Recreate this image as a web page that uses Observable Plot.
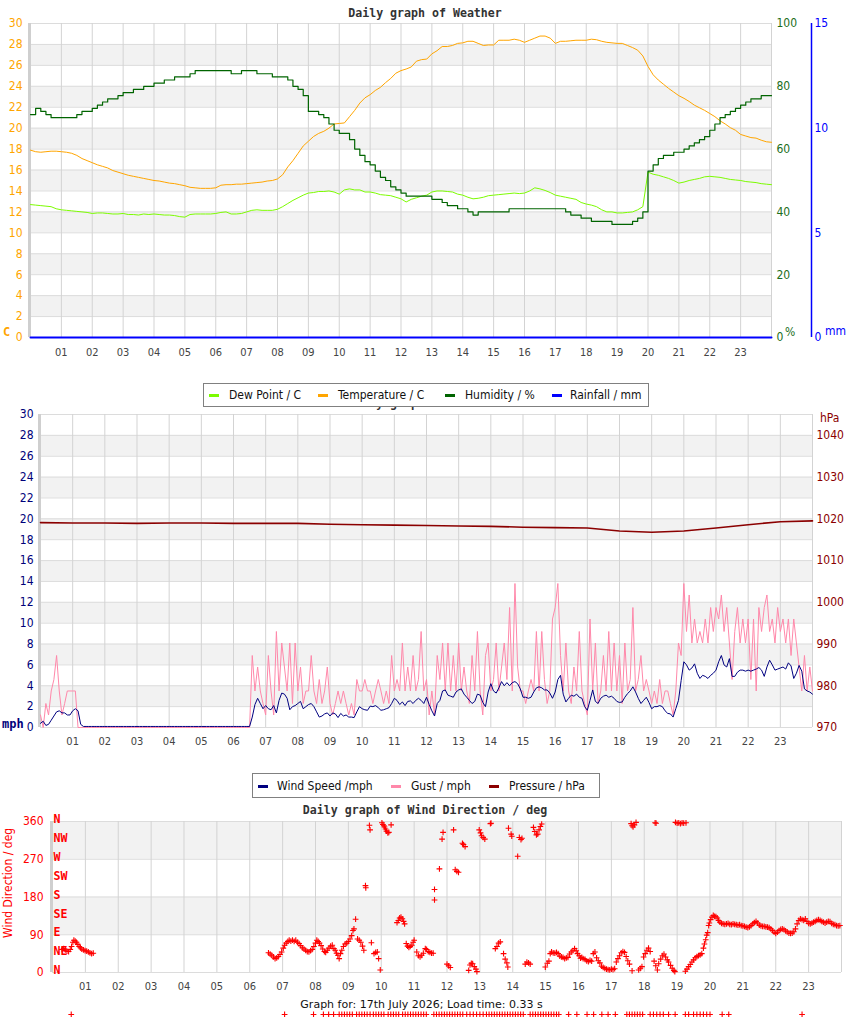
<!DOCTYPE html>
<html>
<head>
<meta charset="utf-8">
<script src="https://cdn.jsdelivr.net/npm/d3@7"></script>
<script src="https://cdn.jsdelivr.net/npm/@observablehq/plot@0.6"></script>
<style>
  html, body { margin: 0; padding: 0; background: #fff; }
  body { position: relative; width: 850px; height: 1017px; overflow: hidden;
         font-family: "DejaVu Sans Condensed", "DejaVu Sans", sans-serif; }
  .abs { position: absolute; }
  .chart { position: absolute; left: 0; }
  .title { position: absolute; left: 0; width: 850px; text-align: center;
           font-family: "DejaVu Sans Mono", monospace; font-weight: bold;
           font-size: 11.6px; line-height: 14px; color: #333; }
  .legend { position: absolute; background: #fff; border: 1px solid #808080;
            box-sizing: border-box; font-size: 12px; color: #111; z-index: 5; }
  .legend .sw { position: absolute; width: 10px; height: 3px; }
  .legend .tx { position: absolute; white-space: nowrap; line-height: 14px; }
  .unit { position: absolute; white-space: nowrap; line-height: 12px; }
  .bold { font-family: "DejaVu Sans Mono", monospace; font-weight: bold; }
</style>
</head>
<body>
<div id="weather" class="chart" style="top:0"></div>
<div id="wind" class="chart" style="top:405px"></div>
<div id="direction" class="chart" style="top:800px"></div>

<div class="title" style="top:6px">Daily graph of Weather</div>
<!-- second panel title: the legend box is drawn over it -->
<div class="title" style="top:396px">Daily graph of Weather</div>
<div class="title" style="top:803px">Daily graph of Wind Direction / deg</div>

<div class="unit bold" style="left:3px;top:326px;color:#ffa500;font-size:12px">C</div>
<div class="unit" style="left:785px;top:326px;color:#1b6e1b;font-size:12px">%</div>
<div class="unit" style="left:825px;top:325px;color:#0000ff;font-size:12px">mm</div>
<div class="unit bold" style="left:2px;top:718px;color:#00007a;font-size:12px">mph</div>
<div class="unit" style="left:820px;top:412px;color:#8b0000;font-size:12px">hPa</div>
<div class="unit" style="left:2px;top:926px;width:12px;height:12px;color:#ff0000;font-size:12px;transform:rotate(-90deg);transform-origin:6px 6px;"><span style="position:absolute;left:0;top:0">Wind Direction / deg</span></div>

<div class="legend" style="left:203px;top:383px;width:446px;height:24px">
  <div class="sw" style="left:5px;top:10px;background:#7cfc00"></div><div class="tx" style="left:25px;top:4px">Dew Point / C</div>
  <div class="sw" style="left:114px;top:10px;background:#ffa500"></div><div class="tx" style="left:134px;top:4px">Temperature / C</div>
  <div class="sw" style="left:241px;top:10px;background:#006400"></div><div class="tx" style="left:261px;top:4px">Humidity / %</div>
  <div class="sw" style="left:348px;top:10px;background:#0000ff"></div><div class="tx" style="left:366px;top:4px">Rainfall / mm</div>
</div>
<div class="legend" style="left:252px;top:773px;width:348px;height:25px">
  <div class="sw" style="left:5px;top:11px;background:#000080"></div><div class="tx" style="left:24px;top:5px">Wind Speed /mph</div>
  <div class="sw" style="left:138px;top:11px;background:#ff88aa"></div><div class="tx" style="left:158px;top:5px">Gust / mph</div>
  <div class="sw" style="left:236px;top:11px;background:#8b0000"></div><div class="tx" style="left:256px;top:5px">Pressure / hPa</div>
</div>

<div class="abs" style="left:0;top:998px;width:843px;text-align:center;font-family:'DejaVu Sans',sans-serif;font-size:11px;color:#111;line-height:14px">Graph for: 17th July 2026; Load time: 0.33 s</div>

<script>
// ---- Hour axis ----
const hourTicks = [1,2,3,4,5,6,7,8,9,10,11,12,13,14,15,16,17,18,19,20,21,22,23];
const hourLabels = ["01","02","03","04","05","06","07","08","09","10","11","12",
                    "13","14","15","16","17","18","19","20","21","22","23"];

// ---- Weather panel ticks ----
const tempTicks = [0,2,4,6,8,10,12,14,16,18,20,22,24,26,28,30];
const humidityTicks = [0,20,40,60,80,100];
const rainTicks = [0,5,10,15];

// ---- Temperature (C), one reading every 10 minutes from 00:00 to 24:00 ----
const temperatureC = [
  17.9, 17.75, 17.7, 17.75, 17.8, 17.8,
  17.75, 17.7, 17.6, 17.4, 17.1, 16.9,
  16.7, 16.5, 16.35, 16.2, 15.95, 15.8,
  15.65, 15.5, 15.4, 15.3, 15.2, 15.1,
  15.0, 14.95, 14.85, 14.75, 14.7, 14.6,
  14.5, 14.35, 14.3, 14.25, 14.25, 14.25,
  14.3, 14.55, 14.6, 14.6, 14.65, 14.65,
  14.7, 14.75, 14.8, 14.85, 14.95, 15.0,
  15.15, 15.55, 16.3, 16.9, 17.6, 18.3,
  18.75, 19.2, 19.5, 19.7, 20.0, 20.4,
  20.45, 20.5, 21.1, 21.7, 22.4, 22.9,
  23.2, 23.6, 23.9, 24.35, 24.75, 25.25,
  25.5, 25.65, 25.85, 26.4, 26.55, 26.6,
  27.1, 27.4, 27.8, 27.8, 27.9, 28.1,
  28.15, 28.3, 28.3, 28.1, 27.9, 27.95,
  27.95, 28.4, 28.4, 28.4, 28.5, 28.4,
  28.2, 28.4, 28.6, 28.8, 28.8, 28.6,
  28.1, 28.3, 28.3, 28.35, 28.4, 28.4,
  28.4, 28.5, 28.45, 28.3, 28.2, 28.15,
  28.1, 28.1, 27.9, 27.7, 27.45, 26.9,
  25.9, 25.1, 24.6, 24.2, 23.8, 23.45,
  23.1, 22.85, 22.55, 22.2, 21.95, 21.7,
  21.4, 21.1, 20.7, 20.4, 20.05, 19.8,
  19.4, 19.25, 19.1, 19.05, 18.85, 18.7,
  18.65
];

// ---- Dew point (C), every 10 minutes ----
const dewPointC = [
  12.7, 12.65, 12.6, 12.55, 12.5, 12.3,
  12.2, 12.15, 12.1, 12.05, 12.0, 11.95,
  11.85, 11.9, 11.9, 11.85, 11.8, 11.8,
  11.85, 11.75, 11.75, 11.7, 11.8, 11.75,
  11.8, 11.75, 11.7, 11.7, 11.65, 11.55,
  11.5, 11.75, 11.8, 11.8, 11.8, 11.8,
  11.85, 11.95, 12.0, 11.8, 11.8, 11.85,
  12.0, 12.15, 12.2, 12.15, 12.15, 12.15,
  12.25, 12.5, 12.8, 13.1, 13.35, 13.6,
  13.8, 13.85, 13.95, 13.95, 14.0, 13.9,
  13.7, 14.1, 14.2, 14.1, 14.1, 13.9,
  13.9, 13.8, 13.65, 13.6, 13.55, 13.4,
  13.25, 12.95, 13.2, 13.35, 13.5, 13.6,
  13.9, 14.0, 14.0, 13.95, 13.9, 13.7,
  13.6, 13.4, 13.25, 13.3, 13.4, 13.55,
  13.6, 13.65, 13.7, 13.75, 13.8, 13.75,
  13.8, 14.0, 14.3, 14.2, 14.05, 13.85,
  13.6, 13.5, 13.4, 13.3, 13.2, 12.9,
  12.75, 12.65, 12.5, 12.2, 12.0, 12.0,
  11.9, 11.9, 11.95, 12.0, 12.2, 12.5,
  15.8, 15.6, 15.5, 15.35, 15.2, 15.0,
  14.75, 14.85, 15.0, 15.1, 15.2, 15.35,
  15.4, 15.35, 15.3, 15.2, 15.1, 15.05,
  15.0, 14.9, 14.85, 14.8, 14.7, 14.65,
  14.6
];

// ---- Relative humidity (%), every 10 minutes ----
const humidityPct = [
  71, 73, 72, 71, 70, 70,
  70, 70, 70, 71, 72, 72,
  73, 74, 75, 76, 76, 77,
  78, 78, 79, 79, 80, 80,
  81, 81, 82, 82, 83, 83,
  83, 84, 85, 85, 85, 85,
  85, 85, 85, 84, 84, 85,
  85, 85, 84, 84, 84, 83,
  83, 83, 82, 80, 79, 77,
  72, 72, 71, 70, 68, 66,
  65, 65, 63, 60, 58, 56,
  55, 53, 51, 50, 48, 47,
  46, 45, 45, 45, 45, 45,
  44, 44, 43, 42, 42, 41,
  41, 40, 39, 40, 40, 40,
  40, 40, 40, 41, 41, 41,
  41, 41, 41, 41, 41, 41,
  41, 41, 40, 39, 39, 38,
  38, 37, 37, 37, 37, 36,
  36, 36, 36, 37, 38, 40,
  53, 55, 57, 58, 58, 59,
  59, 60, 61, 62, 63, 64,
  66, 68, 70, 71, 72, 73,
  74, 75, 76, 76, 77, 77,
  77
];

// ---- Rainfall (mm), hourly from 00:00 to 24:00 ----
const rainfallMm = [0,0,0,0,0,0,0,0,0,0,0,0,0,0,0,0,0,0,0,0,0,0,0,0,0];

// ---- Wind panel ticks ----
const speedTicks = [0,2,4,6,8,10,12,14,16,18,20,22,24,26,28,30];
const pressureTicks = [970,980,990,1000,1010,1020,1030,1040];

// ---- Wind speed (mph), every 5 minutes ----
const windSpeedMph = [
  0.4, 0.6, 0.2, 0.3, 0.7, 1.1, 1.5, 1.6, 1.4, 1.4, 1.2, 1.2,
  1.6, 1.8, 1.6, 0.3, 0.1, 0.1, 0.1, 0.1, 0.1, 0.1, 0.1, 0.1,
  0.1, 0.1, 0.1, 0.1, 0.1, 0.1, 0.1, 0.1, 0.1, 0.1, 0.1, 0.1,
  0.1, 0.1, 0.1, 0.1, 0.1, 0.1, 0.1, 0.1, 0.1, 0.1, 0.1, 0.1,
  0.1, 0.1, 0.1, 0.1, 0.1, 0.1, 0.1, 0.1, 0.1, 0.1, 0.1, 0.1,
  0.1, 0.1, 0.1, 0.1, 0.1, 0.1, 0.1, 0.1, 0.1, 0.1, 0.1, 0.1,
  0.1, 0.1, 0.1, 0.1, 0.1, 0.1, 0.1, 1.0, 2.2, 2.8, 2.3, 1.8,
  2.1, 1.8, 1.7, 2.1, 1.4, 2.6, 3.3, 3.2, 2.8, 1.7, 2.0, 2.1,
  2.3, 2.5, 1.8, 2.0, 2.2, 2.3, 2.0, 1.5, 1.0, 1.1, 1.3, 1.4,
  1.1, 1.4, 1.3, 0.95, 1.35, 1.1, 1.2, 1.0, 1.0, 0.95, 1.5, 2.0,
  1.8, 1.7, 1.65, 2.05, 2.0, 2.1, 1.9, 1.65, 1.7, 1.8, 1.9, 2.3,
  2.8, 2.6, 2.2, 2.45, 2.1, 2.5, 2.55, 2.3, 2.6, 2.8, 2.6, 2.3,
  2.9, 2.2, 1.6, 1.1, 2.3, 2.6, 3.5, 3.6, 3.1, 3.0, 2.9, 3.4,
  3.6, 3.7, 3.2, 2.9, 2.6, 2.3, 2.5, 3.2, 3.1, 2.4, 2.0, 3.4,
  4.2, 3.5, 3.3, 3.8, 4.4, 4.0, 4.3, 4.0, 4.3, 4.4, 4.2, 3.7,
  2.9, 2.9, 2.8, 2.9, 3.4, 3.8, 3.9, 3.8, 3.6, 3.6, 3.3, 2.8,
  3.4, 4.6, 5.0, 3.2, 2.45, 2.8, 3.1, 3.0, 3.2, 2.9, 2.8, 2.0,
  1.65, 2.6, 3.6, 2.5, 2.3, 2.8, 3.0, 3.1, 2.9, 3.0, 2.8, 2.5,
  2.4, 2.45, 2.9, 3.25, 3.5, 3.9, 3.4, 2.8, 2.3, 2.6, 2.9, 2.4,
  1.8, 2.0, 2.0, 2.1, 2.0, 1.6, 1.35, 1.3, 1.0, 1.8, 2.6, 4.5,
  6.3, 6.0, 5.5, 5.7, 6.1, 5.2, 4.7, 5.0, 4.9, 4.7, 5.0, 5.2,
  5.5, 6.3, 6.9, 6.0, 5.8, 6.6, 4.9, 4.9, 5.3, 5.5, 5.5, 5.4,
  5.5, 5.4, 5.5, 5.6, 5.75, 5.5, 4.9, 5.8, 6.45, 6.0, 5.5, 5.6,
  5.7, 5.8, 5.6, 6.2, 5.9, 4.7, 5.2, 5.95, 5.4, 3.7, 3.5, 3.4,
  3.2
];

// ---- Gust (mph), every 5 minutes ----
const gustMph = [
  1.2, 0, 2.3, 1.2, 3.5, 4.6, 6.9, 3.5, 1.2, 2.3, 3.5, 3.5,
  3.5, 3.5, 0, 0, 0, 0, 0, 0, 0, 0, 0, 0,
  0, 0, 0, 0, 0, 0, 0, 0, 0, 0, 0, 0,
  0, 0, 0, 0, 0, 0, 0, 0, 0, 0, 0, 0,
  0, 0, 0, 0, 0, 0, 0, 0, 0, 0, 0, 0,
  0, 0, 0, 0, 0, 0, 0, 0, 0, 0, 0, 0,
  0, 0, 0, 0, 0, 0, 0, 6.9, 3.5, 5.8, 3.5, 2.3,
  1.2, 6.9, 3.5, 1.2, 9.2, 3.5, 8.1, 5.8, 3.5, 8.1, 2.3, 8.1,
  3.5, 5.8, 2.3, 3.5, 3.5, 6.9, 3.5, 2.3, 4.6, 2.3, 3.5, 5.8,
  2.3, 1.2, 2.3, 3.5, 2.3, 3.5, 2.3, 1.2, 2.3, 1.2, 4.6, 3.5,
  3.5, 4.6, 3.5, 3.5, 2.3, 3.5, 4.6, 3.5, 2.3, 3.5, 2.3, 6.9,
  3.5, 4.6, 3.5, 8.1, 3.5, 5.8, 3.5, 6.9, 3.5, 4.6, 9.2, 3.5,
  4.6, 1.2, 3.5, 1.2, 6.9, 4.6, 8.1, 3.5, 8.1, 3.5, 6.9, 3.5,
  8.1, 3.5, 5.8, 3.5, 2.3, 6.9, 3.5, 9.2, 3.5, 1.2, 6.9, 8.1,
  3.5, 4.6, 8.1, 3.5, 5.8, 8.1, 4.6, 11.5, 3.5, 13.8, 5.8, 3.5,
  3.5, 2.3, 3.5, 4.6, 3.5, 9.2, 3.5, 9.2, 4.6, 2.3, 3.5, 10.4,
  11.5, 13.8, 6.9, 3.5, 8.1, 3.5, 2.3, 5.8, 3.5, 9.2, 3.5, 2.3,
  1.2, 10.4, 3.5, 8.1, 2.3, 3.5, 6.9, 3.5, 9.2, 3.5, 8.1, 3.5,
  6.9, 2.3, 8.1, 3.5, 4.6, 11.5, 3.5, 4.6, 6.9, 3.5, 4.6, 3.5,
  2.3, 3.5, 2.3, 4.6, 2.3, 3.5, 3.5, 2.3, 1.2, 3.5, 8.1, 6.9,
  13.8, 9.2, 12.7, 8.1, 10.4, 8.1, 9.2, 8.1, 10.4, 8.1, 11.5, 9.2,
  11.5, 10.4, 12.7, 9.2, 11.5, 8.1, 4.6, 9.2, 11.5, 8.1, 10.4, 8.1,
  10.4, 4.6, 10.4, 3.5, 11.5, 9.2, 11.5, 12.7, 9.2, 10.4, 8.1, 11.5,
  9.2, 10.4, 8.1, 10.4, 6.9, 10.4, 8.1, 5.8, 3.5, 6.9, 3.5, 5.8,
  3.5
];

// ---- Sea-level pressure (hPa), hourly ----
const pressureHpa = [
  1019.1, 1019.0, 1019.0, 1018.9, 1019.0, 1019.0, 1018.9, 1018.9, 1018.9,
  1018.7, 1018.6, 1018.5, 1018.4, 1018.3, 1018.2, 1018.0, 1017.9, 1017.8,
  1017.1, 1016.8, 1017.1, 1017.8, 1018.6, 1019.3, 1019.5
];

// ---- Wind direction panel ----
const directionTicks = [0, 90, 180, 270, 360];
const compassNames = ["N","NE","E","SE","S","SW","W","NW","N"];
const compassDegrees = [0, 45, 90, 135, 180, 225, 270, 315, 360];

// [hour, degrees]
const windDirectionReadings = [
  [0.29,55],[0.34,57],[0.39,54],[0.44,51],[0.49,50],[0.54,55],[0.58,62],[0.62,72],[0.65,77],[0.69,75],
  [0.73,72],[0.77,67],[0.81,62],[0.85,59],[0.89,56],[0.94,54],[0.99,52],[1.04,51],[1.09,49],[1.14,47],
  [1.19,45],[1.24,46],
  [6.57,47],[6.62,44],[6.67,41],[6.72,37],[6.77,33],[6.82,35],[6.87,38],[6.92,43],[6.97,49],[7.02,58],
  [7.06,65],[7.11,70],[7.16,74],[7.2,77],[7.25,75],[7.3,77],[7.35,74],[7.4,77],[7.45,72],[7.5,69],
  [7.55,64],[7.6,59],[7.65,56],[7.7,53],[7.75,50],[7.8,49],[7.85,52],[7.9,55],[7.95,62],[8.0,70],
  [8.04,77],[8.08,74],[8.12,70],[8.17,64],[8.22,56],[8.27,50],[8.31,48],[8.36,53],[8.41,58],[8.46,63],
  [8.51,65],[8.56,57],[8.6,53],[8.64,46],[8.68,41],[8.72,33],[8.76,45],[8.8,53],[8.85,62],[8.9,68],
  [8.95,70],[9.0,74],[9.05,80],[9.1,88],[9.14,100],[9.17,104],[9.22,127],[9.28,80],[9.33,77],[9.38,72],
  [9.43,63],[9.47,53],[9.52,207],[9.53,202],[9.64,351],[9.66,340],[9.7,71],[9.78,45],[9.83,48],[9.88,49],
  [9.92,33],[9.97,6],[10.02,357],[10.05,353],[10.08,350],[10.1,347],[10.13,342],[10.16,337],[10.2,333],[10.23,334],
  [10.3,352],[10.48,119],[10.52,124],[10.56,130],[10.6,132],[10.64,128],[10.68,122],[10.71,116],[10.76,69],[10.8,63],
  [10.84,60],[10.88,62],[10.93,65],[10.97,72],[11.0,77],[11.08,49],[11.13,40],[11.18,37],[11.23,41],[11.28,46],
  [11.34,57],[11.38,55],[11.43,50],[11.48,48],[11.53,46],[11.58,46],
  [11.62,198],[11.62,173],[11.77,247],[11.85,318],[11.88,334],[12.0,20],[12.05,16],[12.1,12],[12.2,340],[12.25,245],
  [12.3,241],[12.35,239],[12.47,308],[12.5,305],[12.55,300],[12.66,5],[12.7,18],[12.74,22],[12.78,21],[12.83,14],
  [12.88,8],[12.91,2],[12.98,340],[13.02,333],[13.05,326],[13.1,322],[13.15,318],[13.32,355],[13.34,356],[13.47,57],
  [13.52,62],[13.57,70],[13.62,73],[13.72,45],[13.77,32],[13.82,23],[13.85,13],[13.87,344],[13.95,330],[13.97,325],
  [14.15,277],[14.2,322],[14.25,317],[14.28,320],[14.38,20],[14.43,25],[14.48,23],[14.53,20],[14.63,346],[14.67,336],
  [14.72,328],[14.76,330],[14.8,340],[14.84,348],[14.88,354],
  [14.99,13],[15.05,22],[15.1,27],[15.14,45],[15.18,49],[15.23,47],[15.28,46],[15.33,48],[15.38,45],[15.43,39],
  [15.48,37],[15.53,36],[15.58,33],[15.63,35],[15.68,36],[15.73,44],[15.78,49],[15.83,52],[15.88,57],[15.93,52],
  [15.97,45],[16.02,40],[16.06,34],[16.1,36],[16.14,33],[16.2,31],[16.25,28],[16.3,26],[16.35,29],[16.4,27],
  [16.45,45],[16.5,49],[16.55,35],[16.6,28],[16.65,23],[16.7,15],[16.75,12],[16.8,10],[16.85,8],[16.9,7],
  [16.95,6],[17.0,8],[17.05,7],[17.1,9],[17.15,25],[17.2,33],[17.25,40],[17.3,47],[17.35,50],[17.4,48],
  [17.45,38],[17.5,28],[17.55,20],[17.63,4],[17.83,6],[17.88,10],[17.93,14],[17.98,37],[18.03,45],[18.08,53],
  [18.13,58],[18.18,50],[18.3,27],[18.35,16],[18.4,6],[18.44,21],[18.5,32],[18.55,40],[18.6,44],[18.65,37],
  [18.7,30],[18.74,25],[18.8,17],[18.85,10],[18.9,5],[18.93,2],[19.25,3],[19.3,8],[19.35,14],[19.4,19],
  [19.45,25],[19.5,30],[19.55,35],[19.6,38],[19.65,40],[19.7,42],[19.75,45],[19.8,58],[19.83,68],[19.87,78],
  [19.9,89],[19.93,95],[19.96,112],[19.98,118],
  [17.6,355],[17.63,350],[17.66,347],[17.7,352],[17.75,358],[18.33,357],[18.36,356],[18.95,358],[19.0,356],[19.05,357],
  [19.1,355],[19.15,357],[19.2,356],[19.27,357],
  [20.02,126],[20.06,132],[20.1,136],[20.14,134],[20.18,133],[20.22,130],[20.26,124],[20.3,120],[20.35,117],[20.4,116],
  [20.45,115],[20.5,116],[20.55,117],[20.6,115],[20.65,114],[20.7,116],[20.75,115],[20.8,114],[20.85,113],[20.9,114],
  [20.95,112],[21.0,111],[21.05,110],[21.1,108],[21.15,107],[21.2,109],[21.25,112],[21.3,116],[21.35,119],[21.4,122],
  [21.45,118],[21.5,113],[21.55,111],[21.6,110],[21.65,110],[21.7,109],[21.75,108],[21.8,107],[21.85,104],[21.9,100],
  [21.95,96],[22.0,93],[22.05,96],[22.1,100],[22.15,103],[22.2,104],[22.25,102],[22.3,99],[22.35,97],[22.4,94],
  [22.45,93],[22.5,94],[22.55,97],[22.6,104],[22.65,116],[22.7,124],[22.75,128],[22.8,126],[22.85,124],[22.9,128],
  [22.95,122],[23.0,117],[23.05,116],[23.1,118],[23.15,120],[23.2,122],[23.25,124],[23.3,126],[23.35,124],[23.4,122],
  [23.45,120],[23.5,118],[23.55,120],[23.6,122],[23.65,121],[23.7,117],[23.75,115],[23.8,114],[23.85,112],[23.9,111],
  [23.95,112]
];

// Readings logged with the off-scale direction code (drawn in a row below the hours)
const offScaleDegrees = -100;
const offScaleHours = [
  0.57, 7.06, 7.94, 8.24, 8.40, 8.55, 8.72, 8.80, 8.88, 8.96, 9.04, 9.12, 9.25, 9.33, 9.41, 9.49,
  9.57, 9.66, 9.76, 9.84, 9.92, 10.0, 10.08, 10.21, 10.29, 10.37, 10.45, 10.53, 10.65, 10.73, 10.81,
  10.89, 10.97, 11.05, 11.13, 11.21, 11.29, 11.37, 11.6, 11.68, 11.76, 11.84, 11.92, 12.0, 12.08,
  12.16, 12.24, 12.32, 12.4, 12.48, 12.6, 12.7, 12.8, 12.9, 13.0, 13.1, 13.2, 13.28, 13.36, 13.44,
  13.52, 13.6, 13.68, 13.76, 13.84, 13.92, 14.0, 14.08, 14.16, 14.24, 14.32, 14.53, 14.61, 14.69,
  14.77, 14.85, 14.93, 15.01, 15.09, 15.17, 15.25, 15.33, 15.4, 15.7, 15.95, 16.26, 16.46, 16.71,
  16.9, 17.12, 17.47, 17.55, 17.63, 17.71, 17.79, 17.87, 17.95, 18.18, 18.28, 18.38, 18.48, 18.58,
  18.74, 18.94, 19.25, 19.35, 19.5, 19.6, 19.7, 19.8, 19.9, 20.0, 20.37, 20.57, 22.8
];

// ---------------------------------------------------------------------------
const labelOf = new Map(hourTicks.map((h, i) => [h, hourLabels[i]]));
const fontStack = "'DejaVu Sans Condensed', 'DejaVu Sans', sans-serif";
const gridV = "#d3d3d3", gridH = "#dcdcdc", band = "#f2f2f2";

// Alternate shaded bands between every other pair of grid lines
function bandsFrom(ticks, start) {
  const out = [];
  for (let i = start; i + 1 < ticks.length; i += 2) out.push([ticks[i], ticks[i + 1]]);
  return out;
}

function frame(hTicks, bands) {
  return [
    Plot.rect(bands, {x1: () => 0, x2: () => 24, y1: d => d[0], y2: d => d[1], fill: band}),
    Plot.ruleY(hTicks, {stroke: gridH}),
    Plot.ruleX(hourTicks, {stroke: gridV}),
    Plot.ruleX([24], {stroke: gridV}),
    Plot.ruleX([0], {stroke: "#cfcfcf", strokeWidth: 3, dx: -1})
  ];
}

function hourAxis(pad) {
  return Plot.axisX(hourTicks, {tickSize: 0, tickPadding: pad, tickFormat: d => labelOf.get(d),
    fill: "#444", fontSize: 11, label: null});
}

// ---- Panel 1: temperature, dew point, humidity, rainfall ----
const humToC = 30 / 100;   // humidity 0-100 % shares the 0-30 C frame
const rainToC = 30 / 15;   // rainfall 0-15 mm shares the 0-30 C frame
const weather = temperatureC.map((t, i) => ({hour: i / 6, temp: t, dew: dewPointC[i], hum: humidityPct[i]}));
const rain = rainfallMm.map((r, i) => ({hour: i, mm: r}));

const p1 = Plot.plot({
  width: 850, height: 370,
  marginLeft: 30, marginRight: 79, marginTop: 23, marginBottom: 33,
  x: {domain: [0, 24]},
  y: {domain: [0, 30]},
  style: {fontFamily: fontStack, fontSize: "12px", background: "transparent", overflow: "visible"},
  marks: [
    ...frame(tempTicks, bandsFrom(tempTicks, 1)),
    Plot.line(weather, {x: "hour", y: "dew", stroke: "#7cfc00", strokeWidth: 1}),
    Plot.line(weather, {x: "hour", y: "temp", stroke: "#ffa500", strokeWidth: 1}),
    Plot.line(weather, {x: "hour", y: d => d.hum * humToC, curve: "step-after", stroke: "#006400", strokeWidth: 1.2}),
    Plot.line(rain, {x: "hour", y: d => d.mm * rainToC, stroke: "#0000ff", strokeWidth: 2}),
    Plot.ruleX([24], {y1: () => 0, y2: () => 30, dx: 40, stroke: "#0000ff", strokeWidth: 1.5}),
    Plot.axisY(tempTicks, {anchor: "left", tickSize: 0, tickPadding: 8, fill: "#ffa500", label: null}),
    Plot.axisY(humidityTicks.map(h => h * humToC), {anchor: "right", tickSize: 0, tickPadding: 5,
      tickFormat: v => String(Math.round(v / humToC)), fill: "#1b6e1b", label: null}),
    Plot.axisY(rainTicks.map(r => r * rainToC), {anchor: "right", tickSize: 0, tickPadding: 3, dx: 40,
      tickFormat: v => String(Math.round(v / rainToC)), fill: "#0000ff", label: null}),
    hourAxis(11)
  ]
});
document.getElementById("weather").append(p1);

// ---- Panel 2: wind speed, gust, pressure ----
const hPaToMph = p => (p - 970) / 2.5;   // 970-1045 hPa shares the 0-30 mph frame
const wind = windSpeedMph.map((w, i) => ({hour: i / 12, speed: w, gust: gustMph[i]}));
const pressure = pressureHpa.map((p, i) => ({hour: i, hPa: p}));

const p2 = Plot.plot({
  width: 850, height: 345,
  marginLeft: 40, marginRight: 38, marginTop: 9, marginBottom: 23,
  x: {domain: [0, 24]},
  y: {domain: [0, 30]},
  style: {fontFamily: fontStack, fontSize: "12px", background: "transparent", overflow: "visible"},
  marks: [
    ...frame(speedTicks, bandsFrom(speedTicks, 1)),
    Plot.line(wind, {x: "hour", y: "gust", stroke: "#ff88aa", strokeWidth: 1}),
    Plot.line(wind, {x: "hour", y: "speed", stroke: "#000080", strokeWidth: 1}),
    Plot.line(pressure, {x: "hour", y: d => hPaToMph(d.hPa), stroke: "#8b0000", strokeWidth: 1.6}),
    Plot.axisY(speedTicks, {anchor: "left", tickSize: 0, tickPadding: 7, fill: "#00007a", label: null}),
    Plot.axisY(pressureTicks.map(hPaToMph), {anchor: "right", tickSize: 0, tickPadding: 4,
      tickFormat: v => String(Math.round(v * 2.5 + 970)), fill: "#8b0000", label: null}),
    hourAxis(10)
  ]
});
document.getElementById("wind").append(p2);

// ---- Panel 3: wind direction ----
const direction = windDirectionReadings.map(([h, d]) => ({hour: h, deg: d}));

const p3 = Plot.plot({
  width: 850, height: 217,
  marginLeft: 52, marginRight: 9, marginTop: 21, marginBottom: 45,
  x: {domain: [0, 24]},
  y: {domain: [0, 360]},
  style: {fontFamily: fontStack, fontSize: "12px", background: "transparent", overflow: "visible"},
  marks: [
    ...frame(directionTicks, bandsFrom(directionTicks, 1)),
    Plot.dot(direction, {x: "hour", y: "deg", symbol: "plus", r: 2.0, stroke: "#ff0000", strokeWidth: 1.1}),
    Plot.dot(offScaleHours, {x: d => d, y: () => offScaleDegrees, symbol: "plus", r: 2.0, stroke: "#ff0000", strokeWidth: 1.1}),
    Plot.text(compassNames, {x: () => 0, y: (d, i) => compassDegrees[i], text: d => d,
      textAnchor: "start", dx: 1, dy: -2, fill: "#ff0000", fontWeight: "bold",
      fontFamily: "DejaVu Sans Mono", fontSize: 11.6}),
    Plot.axisY(directionTicks, {anchor: "left", tickSize: 0, tickPadding: 9, fill: "#ff0000", label: null}),
    hourAxis(10)
  ]
});
document.getElementById("direction").append(p3);
</script>
</body>
</html>
